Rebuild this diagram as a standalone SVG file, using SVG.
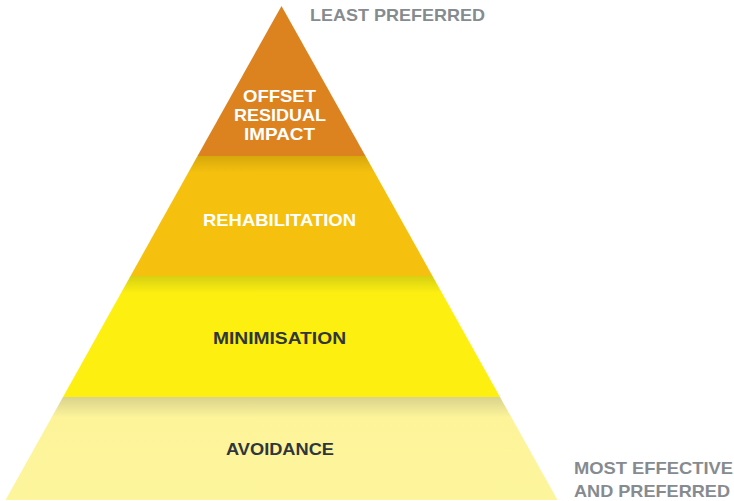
<svg xmlns="http://www.w3.org/2000/svg" width="734" height="501" viewBox="0 0 734 501">
<style>
.lbl{font-family:"Liberation Sans",Arial,sans-serif;font-weight:bold;font-size:17px;text-anchor:middle}
.w{fill:#ffffff}
.d{fill:#2f363c}
.g{font-family:"Liberation Sans",Arial,sans-serif;font-weight:bold;font-size:17px;fill:#868b90}
</style>
<defs>
<linearGradient id="gRehab" x1="0" y1="0" x2="0" y2="1">
<stop offset="0" stop-color="#d6a80a"/>
<stop offset="0.14" stop-color="#f6c10e"/>
<stop offset="1" stop-color="#f6c10e"/>
</linearGradient>
<linearGradient id="gMin" x1="0" y1="0" x2="0" y2="1">
<stop offset="0" stop-color="#d7cf12"/>
<stop offset="0.14" stop-color="#fdef10"/>
<stop offset="1" stop-color="#fdef10"/>
</linearGradient>
<linearGradient id="gAvoid" x1="0" y1="0" x2="0" y2="1">
<stop offset="0" stop-color="#d9d38c"/>
<stop offset="0.2" stop-color="#fdf49a"/>
<stop offset="1" stop-color="#fdf59c"/>
</linearGradient>
</defs>
<g id="offset">
<polygon points="281.5,6 365.5,156 197.5,156" fill="#dc8320"/>
<text class="lbl w" x="279.5" y="102" textLength="73" lengthAdjust="spacingAndGlyphs">OFFSET</text>
<text class="lbl w" x="280" y="121" textLength="92" lengthAdjust="spacingAndGlyphs">RESIDUAL</text>
<text class="lbl w" x="279.5" y="140" textLength="71" lengthAdjust="spacingAndGlyphs">IMPACT</text>
</g>
<g id="rehabilitation">
<polygon points="197.5,156 365.5,156 432.5,276 130.5,276" fill="url(#gRehab)"/>
<text class="lbl w" x="279.5" y="226" textLength="153" lengthAdjust="spacingAndGlyphs">REHABILITATION</text>
</g>
<g id="minimisation">
<polygon points="130.5,276 432.5,276 500,397 63,397" fill="url(#gMin)"/>
<text class="lbl d" x="279.5" y="344" textLength="133" lengthAdjust="spacingAndGlyphs">MINIMISATION</text>
</g>
<g id="avoidance">
<polygon points="63,397 500,397 557.5,500 5.5,500" fill="url(#gAvoid)"/>
<text class="lbl d" x="280" y="455" textLength="108" lengthAdjust="spacingAndGlyphs">AVOIDANCE</text>
</g>
<g id="notes">
<text class="g" x="310" y="21" textLength="175" lengthAdjust="spacingAndGlyphs">LEAST PREFERRED</text>
<text class="g" x="574" y="474" textLength="159" lengthAdjust="spacingAndGlyphs">MOST EFFECTIVE</text>
<text class="g" x="574" y="497" textLength="156" lengthAdjust="spacingAndGlyphs">AND PREFERRED</text>
</g>
<g id="connectors"></g>
</svg>
